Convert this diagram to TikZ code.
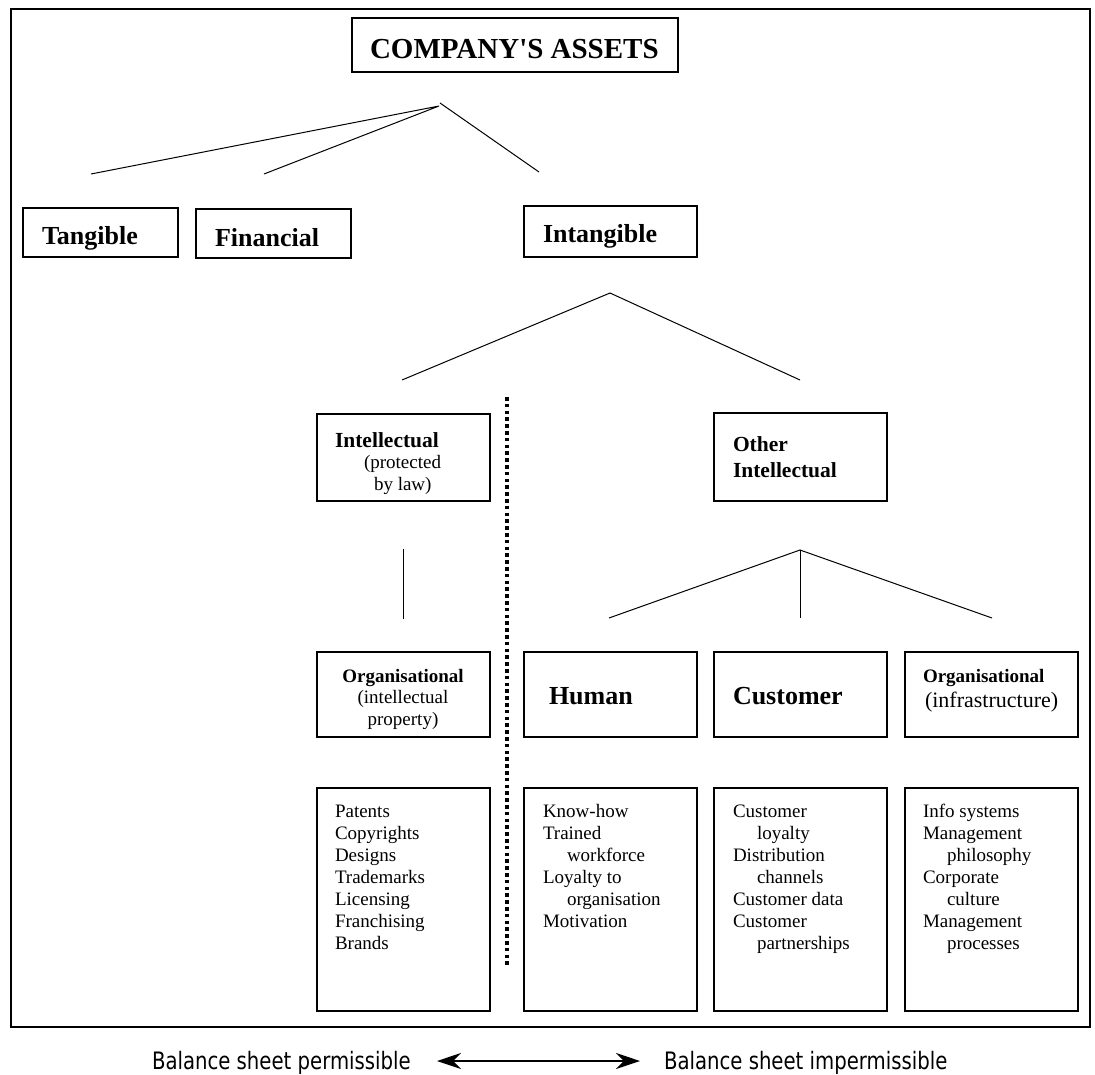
\documentclass[tikz,border=0pt]{standalone}
\usepackage{fontspec}
\setmainfont{Liberation Serif}
\newfontfamily\plainserif{Liberation Serif}
\newfontfamily\bsfont[FakeStretch=0.82]{DejaVu Sans}
\usetikzlibrary{arrows.meta}
\newcommand{\fsz}[2]{\fontsize{#1}{#2}\selectfont}
\newcommand{\ind}{\hspace*{24pt}}
\newcommand{\itemlist}[1]{\begin{tabular}[t]{@{}l@{}}#1\end{tabular}}
\begin{document}
\begin{tikzpicture}[x=1pt,y=-1pt,
  box/.style={draw, line width=2.4pt, inner sep=0pt},
  conn/.style={line width=1pt},
  lbl/.style={anchor=base west, inner sep=0pt, outer sep=0pt},
  head/.style={lbl, font=\bfseries\fsz{26}{30}},
  sub/.style={lbl, font=\bfseries\fsz{21.5}{26}},
  small/.style={lbl, font=\fsz{19}{22}},
  listtxt/.style={lbl, font=\fsz{19}{22.1}}]
\useasboundingbox (0,0) rectangle (1095,1075);
% outer frame
\draw[line width=1.3pt] (11,9) rectangle (1090,1027);

% boxes
\node[box, minimum width=326, minimum height=54] (company) at (515,45) {};
\node[box, minimum width=155, minimum height=49] (tang) at (100.5,232.5) {};
\node[box, minimum width=155, minimum height=49] (fin) at (273.5,233.5) {};
\node[box, minimum width=173, minimum height=51] (intang) at (610.5,231.5) {};
\node[box, minimum width=173, minimum height=87] (intel) at (403.5,457.5) {};
\node[box, minimum width=173, minimum height=88] (other) at (800.5,457) {};
\node[box, minimum width=173, minimum height=85] (orgip) at (403.5,694.5) {};
\node[box, minimum width=173, minimum height=85] (human) at (610.5,694.5) {};
\node[box, minimum width=173, minimum height=85] (cust) at (800.5,694.5) {};
\node[box, minimum width=173, minimum height=85] (orgin) at (991.5,694.5) {};
\node[box, minimum width=173, minimum height=223] (l1) at (403.5,899.5) {};
\node[box, minimum width=173, minimum height=223] (l2) at (610.5,899.5) {};
\node[box, minimum width=173, minimum height=223] (l3) at (800.5,899.5) {};
\node[box, minimum width=173, minimum height=223] (l4) at (991.5,899.5) {};

% labels
\node[lbl, font=\plainserif\bfseries\fsz{29}{33}] (tcompany) at (370,59) {COMPANY'S ASSETS};
\node[head] (ttang) at (42,245) {Tangible};
\node[head] (tfin) at (215,247) {Financial};
\node[head] (tintang) at (543,243) {Intangible};
\node[sub] (tintel) at (335,447) {Intellectual};
\node[small] (tprot) at (364,468) {(protected};
\node[small] (tlaw) at (374,490) {by law)};
\node[sub] (tother1) at (733,451) {Other};
\node[sub] (tother2) at (733,477) {Intellectual};
\node[lbl, anchor=base, font=\bfseries\fsz{19}{22}] (torgip1) at (403,682) {Organisational};
\node[lbl, anchor=base, font=\fsz{19}{22}] (torgip2) at (403,703) {(intellectual};
\node[lbl, anchor=base, font=\fsz{19}{22}] (torgip3) at (403,725) {property)};
\node[head] (thuman) at (549,704) {Human};
\node[head] (tcust) at (733,704) {Customer};
\node[lbl, font=\bfseries\fsz{19}{22}] (torgin1) at (923,682) {Organisational};
\node[lbl, font=\fsz{22}{26}] (torgin2) at (925,707) {(infrastructure)};

% lists
\node[listtxt] (tl1) at (335,817) {\itemlist{Patents\\Copyrights\\Designs\\Trademarks\\Licensing\\Franchising\\Brands}};
\node[listtxt] (tl2) at (543,817) {\itemlist{Know-how\\Trained\\\ind workforce\\Loyalty to\\\ind organisation\\Motivation}};
\node[listtxt] (tl3) at (733,817) {\itemlist{Customer\\\ind loyalty\\Distribution\\\ind channels\\Customer data\\Customer\\\ind partnerships}};
\node[listtxt] (tl4) at (923,817) {\itemlist{Info systems\\Management\\\ind philosophy\\Corporate\\\ind culture\\Management\\\ind processes}};

% connector coordinates
\coordinate (apex1) at (439,106);
\coordinate (apex1b) at (440,103);
\coordinate (e1) at (91,174);
\coordinate (e2) at (264,174);
\coordinate (e3) at (539,172);
\coordinate (apex2) at (610,293);
\coordinate (e4) at (402,380);
\coordinate (e5) at (800,380);
\coordinate (v1) at (403,549);
\coordinate (v2) at (403,619);
\coordinate (apex3) at (800,550);
\coordinate (e6) at (609,618);
\coordinate (e7) at (800,618);
\coordinate (e8) at (992,618);
\coordinate (d1) at (507,397);
\coordinate (d2) at (507,967);

\draw[conn] (e1) -- (apex1) -- (e2);
\draw[conn] (apex1b) -- (e3);
\draw[conn] (e4) -- (apex2) -- (e5);
\draw[conn] (v1) -- (v2);
\draw[conn] (e6) -- (apex3) -- (e8);
\draw[conn] (apex3) -- (e7);
\draw[line width=3.6pt, dash pattern=on 3.6pt off 3.2pt] (d1) -- (d2);

% bottom
\node[lbl, font=\bsfont\fsz{24}{28}] (perm) at (152,1069) {Balance sheet permissible};
\node[lbl, font=\bsfont\fsz{24}{28}] (imperm) at (664,1069) {Balance sheet impermissible};
\coordinate (al) at (437,1061);
\coordinate (ar) at (640,1061);
\draw[line width=2pt, {Stealth[length=24pt,width=16pt]}-{Stealth[length=24pt,width=16pt]}] (al) -- (ar);
\end{tikzpicture}
\end{document}
